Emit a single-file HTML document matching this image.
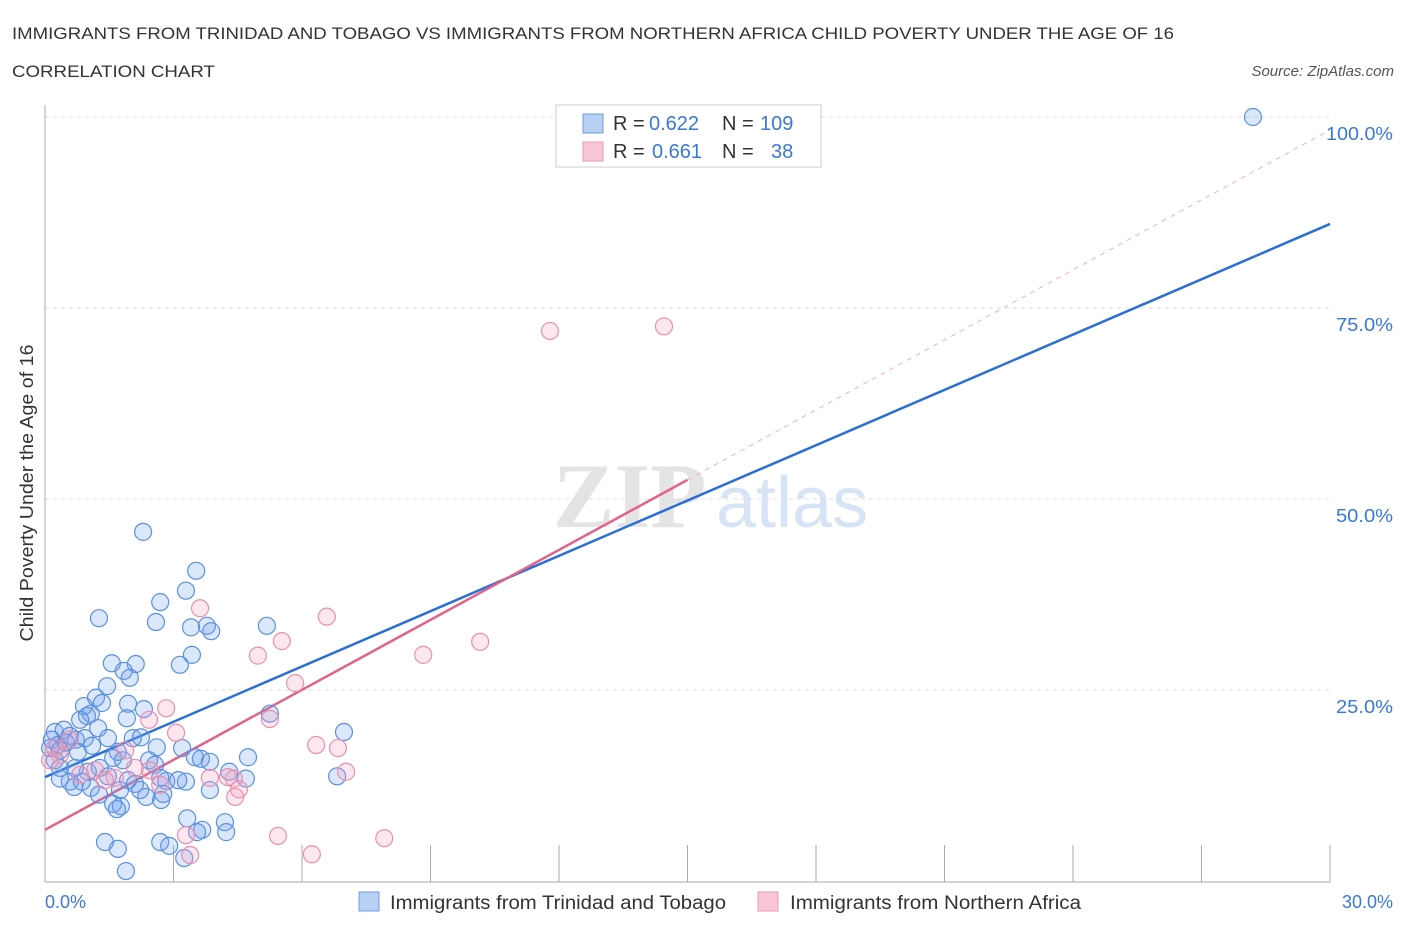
<!DOCTYPE html>
<html><head><meta charset="utf-8"><style>
body{margin:0;background:#fff;font-family:"Liberation Sans",sans-serif;}
svg{display:block}
</style></head><body>
<svg id="chart" width="1406" height="930">
<text x="12" y="39" font-size="17" fill="#333" textLength="1162" lengthAdjust="spacingAndGlyphs">IMMIGRANTS FROM TRINIDAD AND TOBAGO VS IMMIGRANTS FROM NORTHERN AFRICA CHILD POVERTY UNDER THE AGE OF 16</text>
<text x="12" y="77" font-size="17" fill="#333" textLength="203" lengthAdjust="spacingAndGlyphs">CORRELATION CHART</text>
<text x="1394" y="76" font-size="15" fill="#555" font-style="italic" text-anchor="end">Source: ZipAtlas.com</text>
<g><text x="553" y="527" font-size="92" font-family="Liberation Serif,serif" fill="#e4e4e4" font-weight="bold">ZIP</text><text x="716" y="527" font-size="72" fill="#d6e4f5">atlas</text></g>
<g id="grid"></g>
<g id="axes"></g>
<g id="lines"></g>
<g id="pts"></g>
<g font-size="20">
<rect x="556" y="105" width="265" height="62" fill="#fff" stroke="#ccc"/>
<rect x="583" y="114" width="20" height="19" fill="#b8d0f4" stroke="#6b9be0"/>
<rect x="583" y="142" width="20" height="19" fill="#f8c6d6" stroke="#e89ab4"/>
<text x="613" y="130" fill="#333">R =</text><text x="649" y="130" fill="#3a78d8">0.622</text>
<text x="722" y="130" fill="#333">N =</text><text x="760" y="130" fill="#3a78d8">109</text>
<text x="613" y="158" fill="#333">R =</text><text x="652" y="158" fill="#3a78d8">0.661</text>
<text x="722" y="158" fill="#333">N =</text><text x="771" y="158" fill="#3a78d8">38</text>
</g>
<g>
<rect x="359" y="892" width="20" height="19" fill="#b8d0f4" stroke="#6b9be0"/>
<text x="390" y="909" font-size="19" fill="#333" textLength="336" lengthAdjust="spacingAndGlyphs">Immigrants from Trinidad and Tobago</text>
<rect x="758" y="892" width="20" height="19" fill="#f8c6d6" stroke="#e89ab4"/>
<text x="790" y="909" font-size="19" fill="#333" textLength="291" lengthAdjust="spacingAndGlyphs">Immigrants from Northern Africa</text>
</g>
<text x="45" y="908" font-size="18" fill="#3a78d8">0.0%</text>
<text x="1393" y="908" font-size="18" fill="#3a78d8" text-anchor="end">30.0%</text>
<text transform="translate(33,493) rotate(-90)" font-size="18" fill="#333" text-anchor="middle" textLength="297" lengthAdjust="spacingAndGlyphs">Child Poverty Under the Age of 16</text>
</svg>
<script>
const blueX=[2.29,3.53,1.26,3.29,2.69,2.59,3.41,3.78,3.88,5.18,3.43,3.15,1.56,2.12,1.84,1.98,1.45,1.19,1.33,1.94,2.31,1.91,0.91,1.07,0.98,0.82,1.24,5.25,6.98,0.23,0.44,0.58,0.72,0.16,0.30,0.12,0.35,0.49,0.93,1.10,0.77,1.47,2.05,2.24,2.61,3.20,1.70,1.59,1.82,2.43,2.57,3.50,3.64,3.85,4.74,1.28,1.00,0.58,0.86,0.68,1.07,0.35,1.47,1.94,2.10,2.69,2.83,3.29,3.11,4.30,4.69,6.82,1.26,2.36,2.76,2.71,1.59,1.77,1.68,3.32,4.20,3.67,3.55,4.23,1.40,1.70,2.69,2.90,3.25,1.89,28.2,0.23,0.35,0.70,2.22,3.85,1.75];
const blueY=[45.7,40.6,34.4,38.0,36.5,33.9,33.2,33.4,32.7,33.4,29.6,28.3,28.5,28.4,27.5,26.6,25.5,24.0,23.3,23.2,22.5,21.3,22.9,21.9,21.6,21.1,20.0,21.9,19.5,19.5,19.8,19.0,18.5,18.5,17.8,17.4,17.1,18.1,18.7,17.7,16.9,18.7,18.7,18.8,17.5,17.4,16.9,16.1,15.8,15.8,15.2,16.2,16.0,15.6,16.2,14.8,14.3,13.0,13.0,12.3,12.2,13.4,13.7,13.2,12.7,13.5,13.1,13.0,13.2,14.3,13.4,13.7,11.3,11.0,11.4,10.6,10.1,9.8,9.4,8.2,7.7,6.7,6.4,6.4,5.1,4.2,5.1,4.6,3.0,1.3,100,15.8,14.8,14.8,11.9,11.9,11.9];
const pinkX=[11.79,14.45,3.62,6.58,5.53,10.16,8.83,4.97,5.84,2.83,2.43,3.06,5.25,6.33,6.84,7.03,3.85,4.41,4.53,4.44,4.27,2.10,1.63,1.17,0.82,2.69,0.35,0.23,0.12,3.29,3.39,5.44,6.23,7.92,0.58,1.40,2.45,1.87];
const pinkY=[72.0,72.6,35.7,34.6,31.4,31.3,29.6,29.5,25.9,22.6,21.1,19.4,21.2,17.8,17.4,14.3,13.5,13.4,12.0,11.0,13.6,14.8,13.5,14.5,13.9,12.6,16.5,17.4,15.8,6.0,3.4,5.9,3.5,5.6,18.5,13.2,14.5,17.1];
const yTicks=[25,50,75,100];
const xTicks=[3,6,9,12,15,18,21,24,27,30];
const blueLine=[13.6,86.0];
const pinkLine=[6.7,98.3];
const pinkSolidEnd=15;
const NS="http://www.w3.org/2000/svg";
const sx=v=>45+v*(1285/30), sy=v=>881-v*7.64;
function mk(t,a,p){const e=document.createElementNS(NS,t);for(const k in a)e.setAttribute(k,a[k]);p.appendChild(e);return e;}
const grid=document.getElementById('grid'),axes=document.getElementById('axes'),lines=document.getElementById('lines'),pts=document.getElementById('pts');
yTicks.forEach(v=>{
 const l=mk('line',{x1:45,x2:1330,y1:sy(v),y2:sy(v),stroke:'#ddd','stroke-dasharray':'4,4'},grid);
 
 
 const t=mk('text',{x:1393,y:sy(v)+23,'font-size':18,fill:'#3a78d8','text-anchor':'end',textLength:v===100?67:57,lengthAdjust:'spacingAndGlyphs'},grid);
 t.textContent=v.toFixed(1)+'%';
 
 
});
const ax=mk('line',{x1:45,x2:1330,y1:882,y2:882,stroke:'#aaa'},axes);


const ay=mk('line',{x1:45,x2:45,y1:105,y2:882,stroke:'#aaa'},axes);


xTicks.forEach(v=>{
 const l=mk('line',{x1:sx(v),x2:sx(v),y1:845,y2:882,stroke:'#aaa'},axes);
 
 
});
const pd=mk('line',{x1:sx(pinkSolidEnd),y1:sy(pinkLine[0]+(pinkLine[1]-pinkLine[0])*pinkSolidEnd/30),x2:sx(30),y2:sy(pinkLine[1]),stroke:'#f0b0c4','stroke-dasharray':'5,5'},lines);


const bl=mk('line',{x1:sx(0),y1:sy(blueLine[0]),x2:sx(30),y2:sy(blueLine[1]),stroke:'#2a6fd6','stroke-width':2.5},lines);


const pl=mk('line',{x1:sx(0),y1:sy(pinkLine[0]),x2:sx(pinkSolidEnd),y2:sy(pinkLine[0]+(pinkLine[1]-pinkLine[0])*pinkSolidEnd/30),stroke:'#e2628a','stroke-width':2.5},lines);


blueX.forEach((x,i)=>{
 const c=mk('circle',{cx:sx(x),cy:sy(blueY[i]),r:8.5,fill:'rgba(110,160,235,0.25)',stroke:'#5a90e2','stroke-width':1.2},pts);
 
 
});
pinkX.forEach((x,i)=>{
 const c=mk('circle',{cx:sx(x),cy:sy(pinkY[i]),r:8.5,fill:'rgba(245,160,190,0.25)',stroke:'#e890ae','stroke-width':1.2},pts);
 
 
});
</script>
</body></html>
